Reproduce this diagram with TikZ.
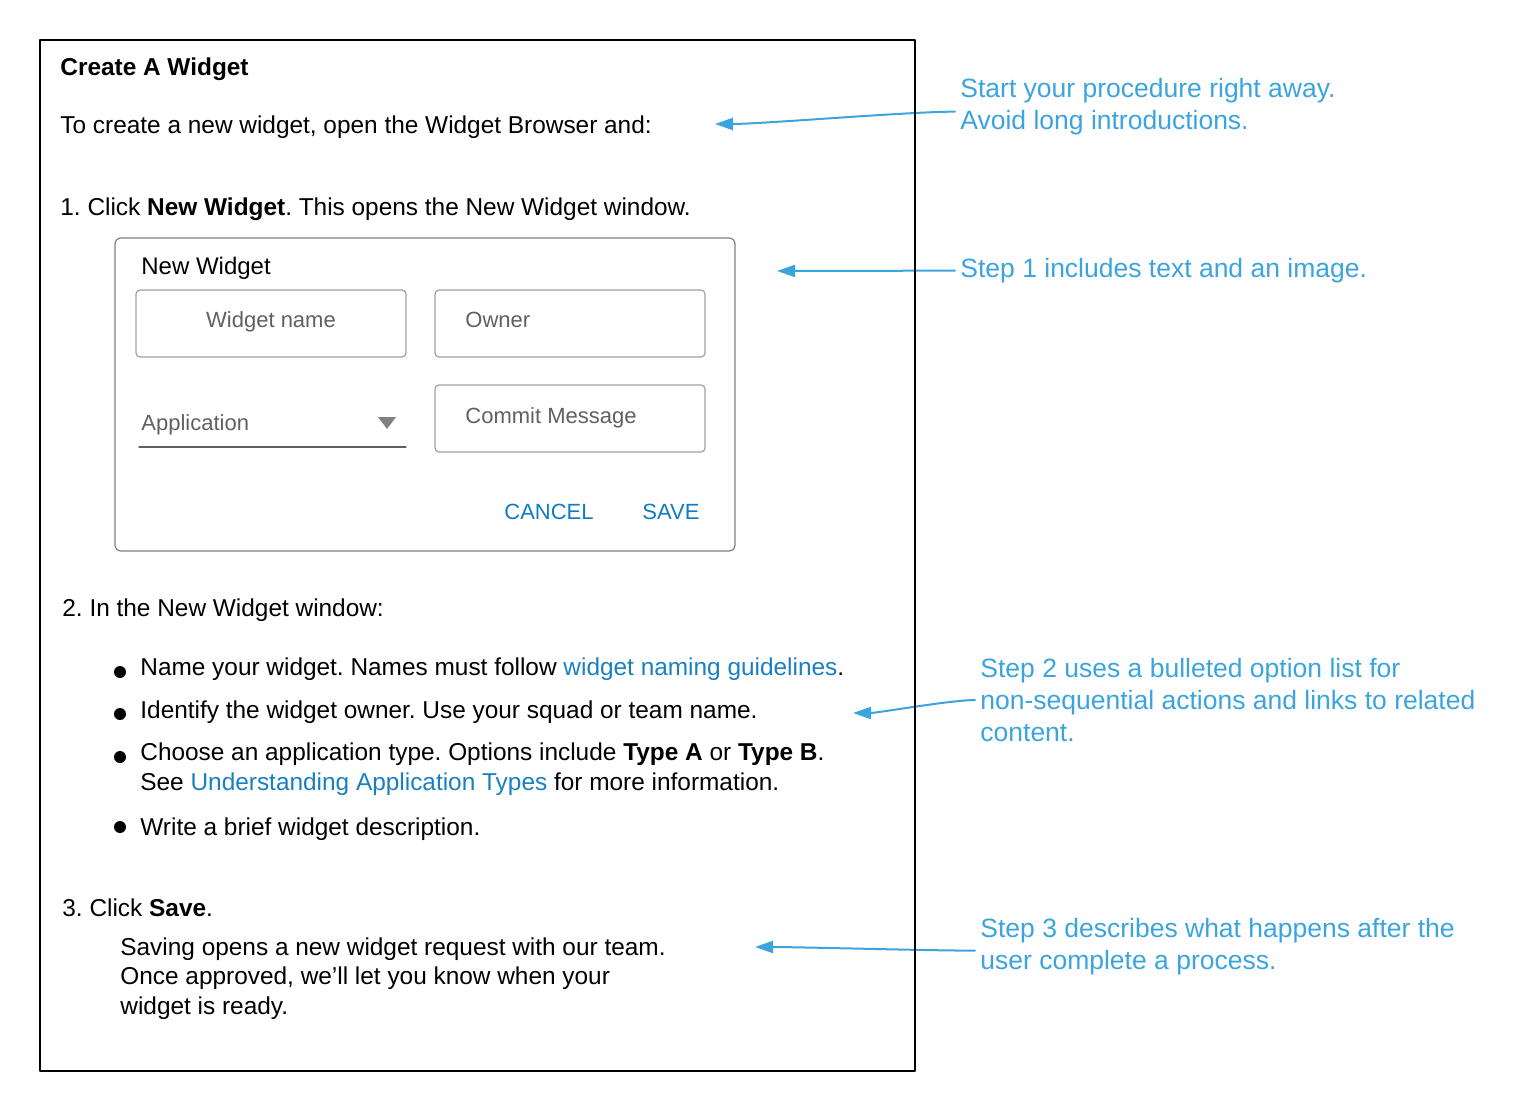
\documentclass[tikz,border=0pt]{standalone}
\usepackage{fontspec}
\setmainfont{Liberation Sans}
\usetikzlibrary{arrows.meta}
\definecolor{notebl}{HTML}{3BA4DF}
\definecolor{linkbl}{HTML}{1A7FC1}
\definecolor{btnbl}{HTML}{0F7CC0}
\definecolor{fieldgr}{HTML}{A0A0A0}
\definecolor{hintgr}{HTML}{606060}
\frenchspacing
\begin{document}
\begin{tikzpicture}[x=0.5pt, y=-0.5pt, line cap=round, line join=round,
		txt/.style={anchor=base west, inner sep=0pt, align=left, font=\fontsize{12.2}{14.6}\selectfont},
		note/.style={anchor=base west, inner xsep=2.5pt, inner ysep=0pt, align=left, text=notebl, font=\fontsize{13.25}{16}\selectfont},
		ui/.style={anchor=base west, inner sep=0pt, font=\fontsize{11}{13}\selectfont},
		hint/.style={ui, text=hintgr},
		btn/.style={ui, anchor=base, text=btnbl},
		field/.style={draw=fieldgr, line width=0.6pt, rounded corners=2pt},
		dot/.style={circle, fill=black, inner sep=0pt, minimum size=6pt},
		callout/.style={draw=notebl, line width=1pt, -{Triangle[length=9pt,width=6pt]}}]
			\useasboundingbox (0,0) rectangle (1535,1112);
			% procedure text
			\node[txt] (title) at (60,76) {\textbf{Create A Widget}};
			\node[txt] (intro) at (60,134) {To create a new widget, open the Widget Browser and:};
			\node[txt] (step1) at (60,216) {1. Click \textbf{New Widget}. This opens the New Widget window.};
			% dialog
			\draw[draw=gray, line width=0.6pt, rounded corners=3pt] (115,238) rectangle (735,551);
			\node[ui, font=\fontsize{12}{14}\selectfont] (dlgtitle) at (141,275) {New Widget};
			\draw[field] (136,290) rectangle (406,357);
			\node[hint, anchor=base] (fname) at (271,328) {Widget name};
			\draw[field] (435,290) rectangle (705,357);
			\node[hint] (fowner) at (465,328) {Owner};
			\node[hint] (fapp) at (141,430) {Application};
			\fill[gray] (378,417) -- (396,417) -- (387,429) -- cycle;
			\draw[draw=hintgr, line width=0.6pt] (139,447) -- (406,447);
			\draw[field] (435,385) rectangle (705,452);
			\node[hint] (fmsg) at (465,423) {Commit Message};
			\node[btn] (cancel) at (549,519) {CANCEL};
			\node[btn] (save) at (671,519) {SAVE};
			% step 2 and 3
			\node[txt] (step2) at (62,616) {2. In the New Widget window:};
			\node[dot] (b1) at (120,672) {};
			\node[dot] (b2) at (120,714) {};
			\node[dot] (b3) at (120,757) {};
			\node[dot] (b4) at (120,827) {};
			\node[txt] (item1) at (140,675) {Name your widget. Names must follow \textcolor{linkbl}{widget naming guidelines}.};
			\node[txt] (item2) at (140,718) {Identify the widget owner. Use your squad or team name.};
			\node[txt, font=\fontsize{12.2}{14.75}\selectfont] (item3) at (140,790) {Choose an application type. Options include \textbf{Type A} or \textbf{Type B}.\\See \textcolor{linkbl}{Understanding Application Types} for more information.};
			\node[txt] (item4) at (140,835) {Write a brief widget description.};
			\node[txt] (step3) at (62,916) {3. Click \textbf{Save}.};
			\node[txt] (saving) at (120,1014) {Saving opens a new widget request with our team.\\Once approved, we'll let you know when your\\widget is ready.};
			% notes
			\node[note] (note1) at (955,129.5) {Start your procedure right away.\\Avoid long introductions.};
			\node[note] (note2) at (955,277.5) {Step 1 includes text and an image.};
			\node[note] (note3) at (975,741.5) {Step 2 uses a bulleted option list for\\non-sequential actions and links to related\\content.};
			\node[note] (note4) at (975,969.5) {Step 3 describes what happens after the\\user complete a process.};
			\coordinate (t1) at (715,124);
			\coordinate (t2) at (777,271);
			\coordinate (t3) at (853,713);
			\coordinate (t4) at (755,947);
			\draw[callout] ([yshift=-2.5pt]note1.west) to[out=180, in=0, looseness=0.5] (t1);
			\draw[callout] (note2.west) -- (t2);
			\draw[callout] (note3.west) to[out=180, in=0, looseness=0.5] (t3);
			\draw[callout] ([yshift=-2pt]note4.west) to[out=180, in=0, looseness=0.5] (t4);
			\draw[line width=1pt] (40,40) rectangle (915,1071);
		\end{tikzpicture}
\end{document}
